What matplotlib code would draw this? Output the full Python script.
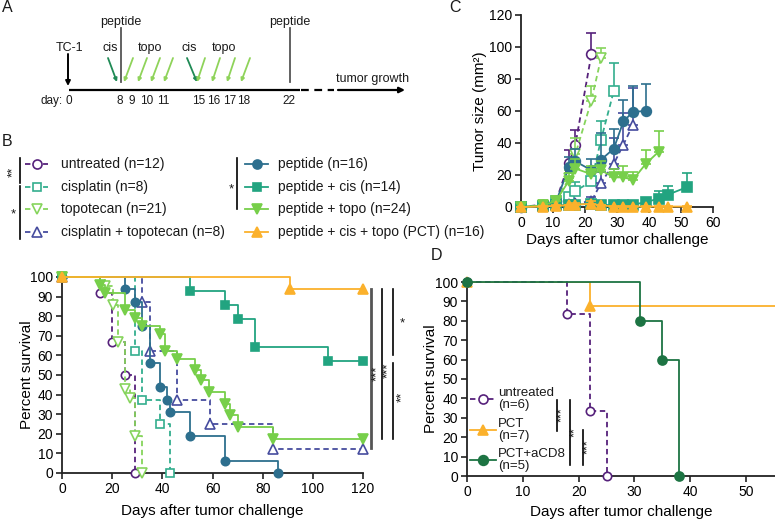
import matplotlib
matplotlib.use('Agg')
import matplotlib.pyplot as plt
import numpy as np

plt.rcParams['font.family'] = ['Liberation Sans', 'DejaVu Sans']
plt.rcParams['font.size'] = 10
plt.rcParams['text.color'] = '#1a1a1a'

# ---------------- DATA ----------------
# Panel A schedule
schedule_days = [0, 8, 9, 10, 11, 15, 16, 17, 18, 22]

# Panel B (Kaplan-Meier, percent survival)
b_unt_t = [0, 15, 20, 25, 29]
b_unt_s = [100, 91.7, 66.7, 50.0, 0]
b_cis_t = [0, 29, 32, 39, 43]
b_cis_s = [100, 62.5, 37.5, 25.0, 0]
b_topo_t = [0, 17, 20.5, 22.5, 25, 27, 29, 32]
b_topo_s = [100, 95.2, 85.7, 66.7, 42.9, 38.1, 19.0, 0]
b_ct_t = [0, 32, 35, 46, 59, 84, 120]
b_ct_s = [100, 87.5, 62.5, 37.5, 25.0, 12.5, 12.5]
b_pep_t = [0, 25, 29, 32, 35, 39, 42, 43, 51, 65, 86]
b_pep_s = [100, 93.75, 87.5, 75.0, 56.25, 43.75, 37.5, 31.25, 18.75, 6.25, 0]
b_pepcis_t = [0, 51, 65, 70, 77, 106, 120]
b_pepcis_s = [100, 92.9, 85.7, 78.6, 64.3, 57.1, 57.1]
b_peptopo_t = [0, 15, 17, 25, 29, 32, 39, 41, 46, 53, 55.5, 58.5, 65, 67, 70, 84, 120]
b_peptopo_s = [100, 95.8, 91.7, 83.3, 79.2, 75.0, 70.8, 62.5, 58.3, 52.5, 47.2, 41.5,
               35.4, 29.5, 23.4, 17.3, 17.3]
b_pct_t = [0, 91, 120]
b_pct_s = [100, 93.75, 93.75]
b_labels = ['untreated (n=12)', 'cisplatin (n=8)', 'topotecan (n=21)',
            'cisplatin + topotecan (n=8)', 'peptide (n=16)', 'peptide + cis (n=14)',
            'peptide + topo (n=24)', 'peptide + cis + topo (PCT) (n=16)']

# Panel C (tumor size, mean + SEM)
c_unt_d = [0, 7, 11, 15, 17, 22]
c_unt = [0, 1.5, 4, 27.5, 39, 95.5]
c_unt_e = [0, 0.5, 1, 8, 9, 13.5]
c_cis_d = [0, 7, 11, 15, 17, 22, 25, 29]
c_cis = [0, 0.8, 3.5, 6.5, 10, 16, 42, 72.5]
c_cis_e = [0, 0.5, 1, 2.5, 5.5, 6, 12, 17.5]
c_topo_d = [0, 7, 11, 15, 17, 22, 25]
c_topo = [0, 1, 4, 18, 33, 66.5, 93]
c_topo_e = [0, 0.5, 1.5, 5, 10, 9, 6.5]
c_ct_d = [0, 7, 11, 15, 17, 22, 25, 29, 32, 35]
c_ct = [0, 0.5, 1, 2, 2.5, 3.5, 15, 27, 39, 51.5]
c_ct_e = [0, 0.3, 0.5, 1, 1.5, 3, 7, 16, 20, 23]
c_pep_d = [0, 7, 11, 15, 17, 22, 25, 29, 32, 35, 39]
c_pep = [0, 1, 3.5, 25, 28.5, 23, 29.5, 36.5, 53.5, 59.5, 60]
c_pep_e = [0, 0.5, 1, 6, 8, 7, 16.5, 12.5, 13.5, 16, 17]
c_pepcis_d = [0, 7, 11, 15, 17, 22, 25, 29, 32, 35, 39, 43, 46, 52]
c_pepcis = [0, 0.5, 1, 1, 1.5, 2, 1.5, 1, 1, 1.5, 3, 5.3, 7.8, 12.5]
c_pepcis_e = [0, 0.3, 0.5, 0.5, 1, 1, 1, 1, 1, 1.5, 2, 4.5, 5.5, 8.5]
c_peptopo_d = [0, 7, 11, 15, 17, 22, 25, 29, 32, 35, 39, 43]
c_peptopo = [0, 1, 4, 16.5, 24, 20.5, 23, 18.5, 18.5, 17, 27, 34.5]
c_peptopo_e = [0, 0.5, 1.5, 5, 6, 5, 6, 5, 7, 5, 8.5, 13]
c_pct_d = [0, 7, 11, 15, 17, 22, 25, 29, 32, 35, 39, 43, 46, 52]
c_pct = [0, 0.3, 0.8, 1, 1.5, 2, 1, 0.3, 0.3, 0.3, 0.3, 0.3, 0.3, 0.3]
c_pct_e = [0, 0.2, 0.5, 0.5, 1, 1.5, 0.5, 0.2, 0.2, 0.2, 0.2, 0.2, 0.2, 0.2]

# Panel D (Kaplan-Meier)
d_unt_t = [0, 18, 22, 25]
d_unt_s = [100, 83.3, 33.3, 0]
d_pct_t = [0, 22, 60]
d_pct_s = [100, 87.5, 87.5]
d_cd8_t = [0, 31, 35, 38]
d_cd8_s = [100, 80, 60, 0]
d_labels = ['untreated\n(n=6)', 'PCT\n(n=7)', 'PCT+aCD8\n(n=5)']

# ---------------- STYLES ----------------
C_UNT = '#56217b'
C_CIS = '#33ae8e'
C_TOPO = '#86d45c'
C_CT = '#464c9e'
C_PEP = '#2d6f8e'
C_PEPCIS = '#22a480'
C_PEPTOPO = '#77cf4a'
C_PCT = '#fbb12c'
C_CD8 = '#1d7443'
DASH = (0, (3, 2))

sty = {
    'unt': dict(color=C_UNT, marker='o', mfc='white', ls=DASH, ms=6),
    'cis': dict(color=C_CIS, marker='s', mfc='white', ls=DASH, ms=5.5),
    'topo': dict(color=C_TOPO, marker='v', mfc='white', ls=DASH, ms=6.5),
    'ct': dict(color=C_CT, marker='^', mfc='white', ls=DASH, ms=6.5),
    'pep': dict(color=C_PEP, marker='o', mfc=C_PEP, ls='-', ms=6),
    'pepcis': dict(color=C_PEPCIS, marker='s', mfc=C_PEPCIS, ls='-', ms=5.5),
    'peptopo': dict(color=C_PEPTOPO, marker='v', mfc=C_PEPTOPO, ls='-', ms=6.5),
    'pct': dict(color=C_PCT, marker='^', mfc=C_PCT, ls='-', ms=6.5),
    'cd8': dict(color=C_CD8, marker='o', mfc=C_CD8, ls='-', ms=6.5),
}

W, H = 775, 520
fig = plt.figure(figsize=(W / 100, H / 100), dpi=100)


def style_axes(ax):
    for s in ('top', 'right'):
        ax.spines[s].set_visible(False)
    for s in ('left', 'bottom'):
        ax.spines[s].set_linewidth(1.3)
        ax.spines[s].set_color('#222222')
    ax.tick_params(direction='out', length=4, width=1.2, color='#222222',
                   labelsize=10, pad=2.5)


def km(ax, t, s, st, z, xmax=None):
    ax.step(t, s, where='post', color=st['color'], ls=st['ls'], lw=1.3,
            clip_on=(xmax is not None), zorder=z)
    t = np.asarray(t, float)
    s = np.asarray(s, float)
    m = np.ones_like(t, bool) if xmax is None else (t <= xmax)
    ax.plot(t[m], s[m], ls='none', marker=st['marker'], mfc=st['mfc'],
            mec=st['color'], ms=st['ms'], mew=1.2, clip_on=False, zorder=z + 0.5)


# ---------------- PANEL B ----------------
axB = fig.add_axes([62 / W, 1 - 473 / H, 301 / W, 196 / H])
style_axes(axB)
b_series = [('unt', b_unt_t, b_unt_s), ('cis', b_cis_t, b_cis_s),
            ('topo', b_topo_t, b_topo_s), ('ct', b_ct_t, b_ct_s),
            ('pep', b_pep_t, b_pep_s), ('pepcis', b_pepcis_t, b_pepcis_s),
            ('peptopo', b_peptopo_t, b_peptopo_s), ('pct', b_pct_t, b_pct_s)]
for i, (k, t, s) in enumerate(b_series):
    km(axB, t, s, sty[k], 3 + i)
axB.set_xlim(0, 120)
axB.set_ylim(0, 100)
axB.set_xticks(range(0, 121, 20))
axB.set_yticks(range(0, 101, 10))
axB.set_xlabel('Days after tumor challenge', fontsize=11, labelpad=5.5)
axB.set_ylabel('Percent survival', fontsize=11, labelpad=-3)

# ---------------- PANEL C ----------------
axC = fig.add_axes([521 / W, 1 - 207 / H, 192 / W, 192 / H])
style_axes(axC)
c_series = [('unt', c_unt_d, c_unt, c_unt_e), ('cis', c_cis_d, c_cis, c_cis_e),
            ('topo', c_topo_d, c_topo, c_topo_e), ('ct', c_ct_d, c_ct, c_ct_e),
            ('pep', c_pep_d, c_pep, c_pep_e), ('pepcis', c_pepcis_d, c_pepcis, c_pepcis_e),
            ('peptopo', c_peptopo_d, c_peptopo, c_peptopo_e), ('pct', c_pct_d, c_pct, c_pct_e)]
for i, (k, d, v, e) in enumerate(c_series):
    st = sty[k]
    axC.errorbar(d, v, yerr=[np.zeros(len(e)), e], fmt='none', ecolor=st['color'],
                 elinewidth=1.2, capsize=3.5, capthick=1.2, clip_on=False, zorder=3 + i)
    axC.plot(d, v, color=st['color'], ls=st['ls'], lw=1.3, marker=st['marker'],
             mfc=st['mfc'], mec=st['color'], ms=st['ms'] + 1, mew=1.2,
             clip_on=False, zorder=3.5 + i)
axC.set_xlim(0, 60)
axC.set_ylim(0, 120)
axC.set_xticks(range(0, 61, 10))
axC.set_yticks(range(0, 121, 20))
axC.set_xlabel('Days after tumor challenge', fontsize=11, labelpad=2)
axC.set_ylabel('Tumor size (mm²)', fontsize=11, labelpad=1)

# ---------------- PANEL D ----------------
d_xmax = (W - 467) / 5.58
axD = fig.add_axes([467 / W, 1 - 476 / H, (W - 467) / W, 194 / H])
style_axes(axD)
km(axD, d_pct_t, d_pct_s, sty['pct'], 3, xmax=d_xmax)
km(axD, d_unt_t, d_unt_s, sty['unt'], 5)
km(axD, d_cd8_t, d_cd8_s, sty['cd8'], 7)
axD.set_xlim(0, d_xmax)
axD.set_ylim(0, 100)
axD.set_xticks(range(0, 51, 10))
axD.set_yticks(range(0, 101, 10))
axD.set_xlabel('Days after tumor challenge', fontsize=11, labelpad=4)
axD.set_ylabel('Percent survival', fontsize=11, labelpad=-2)

# ---------------- OVERLAY (schematic, legends, brackets) ----------------
ov = fig.add_axes([0, 0, 1, 1], facecolor='none')
ov.set_xlim(0, W)
ov.set_ylim(H, 0)
ov.axis('off')

# panel letters
for lab, x, y in [('A', 2, 8), ('B', 2, 142), ('C', 449, 8), ('D', 431, 255)]:
    ov.text(x, y, lab, fontsize=11.5, ha='left', va='center')

# --- Panel A schematic ---
day_px = [69, 120, 132, 147, 163, 199, 214, 230, 244, 289]
tl_y = 90
ov.plot([69, 300], [tl_y, tl_y], color='black', lw=1.6, solid_capstyle='butt')
ov.plot([301, 334], [tl_y, tl_y], color='black', lw=1.6, ls=(0, (3.5, 2.5)))
ov.annotate('', xy=(405, tl_y), xytext=(338, tl_y),
            arrowprops=dict(arrowstyle='-|>', color='black', lw=1.6,
                            mutation_scale=8, shrinkA=0, shrinkB=0))
ov.text(373, 79, 'tumor growth', ha='center', va='center', fontsize=9)
ov.text(63, 101, 'day:', ha='right', va='center', fontsize=8.5)
for d, x in zip(schedule_days, day_px):
    ov.text(x, 101, str(d), ha='center', va='center', fontsize=8.5)
ov.text(70, 48, 'TC-1', ha='center', va='center', fontsize=9)
ov.annotate('', xy=(68, 86), xytext=(68, 54),
            arrowprops=dict(arrowstyle='-|>', color='black', lw=1.4,
                            mutation_scale=7, shrinkA=0, shrinkB=0))
for xp in (day_px[1], day_px[-1]):
    ov.plot([xp + 1, xp + 1], [28, 82], color='#555555', lw=1.3)
    ov.text(xp + 1, 22, 'peptide', ha='center', va='center', fontsize=9)
for xc in (110, 189):
    ov.text(xc, 48, 'cis', ha='center', va='center', fontsize=9)
for xc in (150, 224):
    ov.text(xc, 48, 'topo', ha='center', va='center', fontsize=9)
for (x0, x1) in [(108, 117), (187, 197)]:
    ov.annotate('', xy=(x1, 82), xytext=(x0, 58),
                arrowprops=dict(arrowstyle='-|>', color='#1f8a55', lw=1.3,
                                mutation_scale=5, shrinkA=0, shrinkB=0))
for (x0, x1) in [(133, 124), (147, 138), (160, 151), (173, 164),
                 (205, 197), (220, 212), (235, 227), (250, 241)]:
    ov.annotate('', xy=(x1, 82), xytext=(x0, 58),
                arrowprops=dict(arrowstyle='-|>', color='#8fd35a', lw=1.3,
                                mutation_scale=5, shrinkA=0, shrinkB=0))

# --- Panel B legend ---
rows = [164, 187, 209, 232]
keys = ['unt', 'cis', 'topo', 'ct', 'pep', 'pepcis', 'peptopo', 'pct']
for i, k in enumerate(keys):
    st = sty[k]
    col = i // 4
    y = rows[i % 4]
    hx0, hx1, tx = (25, 48, 61) if col == 0 else (245, 268, 278)
    ov.plot([hx0, hx1], [y, y], color=st['color'], ls=st['ls'], lw=1.3)
    ov.plot([(hx0 + hx1) / 2], [y], marker=st['marker'], mfc=st['mfc'],
            mec=st['color'], ms=st['ms'] + 0.5, mew=1.2, ls='none')
    ov.text(tx, y, b_labels[i], ha='left', va='center', fontsize=10)

# legend brackets
ov.plot([20, 20], [158, 183], color='black', lw=1.2)
ov.text(13, 172, '**', rotation=90, ha='center', va='center', fontsize=9.5)
ov.plot([20, 20], [186, 239], color='black', lw=1.2)
ov.text(13, 214, '*', ha='center', va='center', fontsize=9.5)
ov.plot([237, 237], [158, 209], color='black', lw=1.2)
ov.text(231, 189, '*', ha='center', va='center', fontsize=9.5)

# panel B significance
ov.plot([371, 371], [289, 448], color='#555555', lw=2)
ov.text(377, 373, '***', rotation=90, ha='center', va='center', fontsize=9.5)
ov.plot([382, 382], [289, 439], color='black', lw=1.2)
ov.text(388.5, 370, '***', rotation=90, ha='center', va='center', fontsize=9.5)
ov.plot([393, 393], [289, 355], color='black', lw=1.2)
ov.text(402, 323, '*', ha='center', va='center', fontsize=9.5)
ov.plot([393, 393], [363, 439], color='black', lw=1.2)
ov.text(402, 397, '**', rotation=90, ha='center', va='center', fontsize=9.5)

# --- Panel D legend ---
d_rows = [399, 430, 460]
for k, y, lab in zip(['unt', 'pct', 'cd8'], d_rows, d_labels):
    st = sty[k]
    ov.plot([470, 496], [y, y], color=st['color'], ls=st['ls'], lw=1.3)
    ov.plot([483], [y], marker=st['marker'], mfc=st['mfc'], mec=st['color'],
            ms=st['ms'] + 0.5, mew=1.2, ls='none')
    ov.text(498, y, lab, ha='left', va='center', fontsize=9.5, linespacing=0.95)

# panel D significance
ov.plot([557, 557], [400, 431], color='black', lw=1.2)
ov.text(562, 415, '***', rotation=90, ha='center', va='center', fontsize=9)
ov.plot([570, 570], [400, 465], color='black', lw=1.2)
ov.text(575, 432, '**', rotation=90, ha='center', va='center', fontsize=9)
ov.plot([583, 583], [430, 465], color='black', lw=1.2)
ov.text(588, 447, '***', rotation=90, ha='center', va='center', fontsize=9)

fig.savefig('out.png', dpi=100)
